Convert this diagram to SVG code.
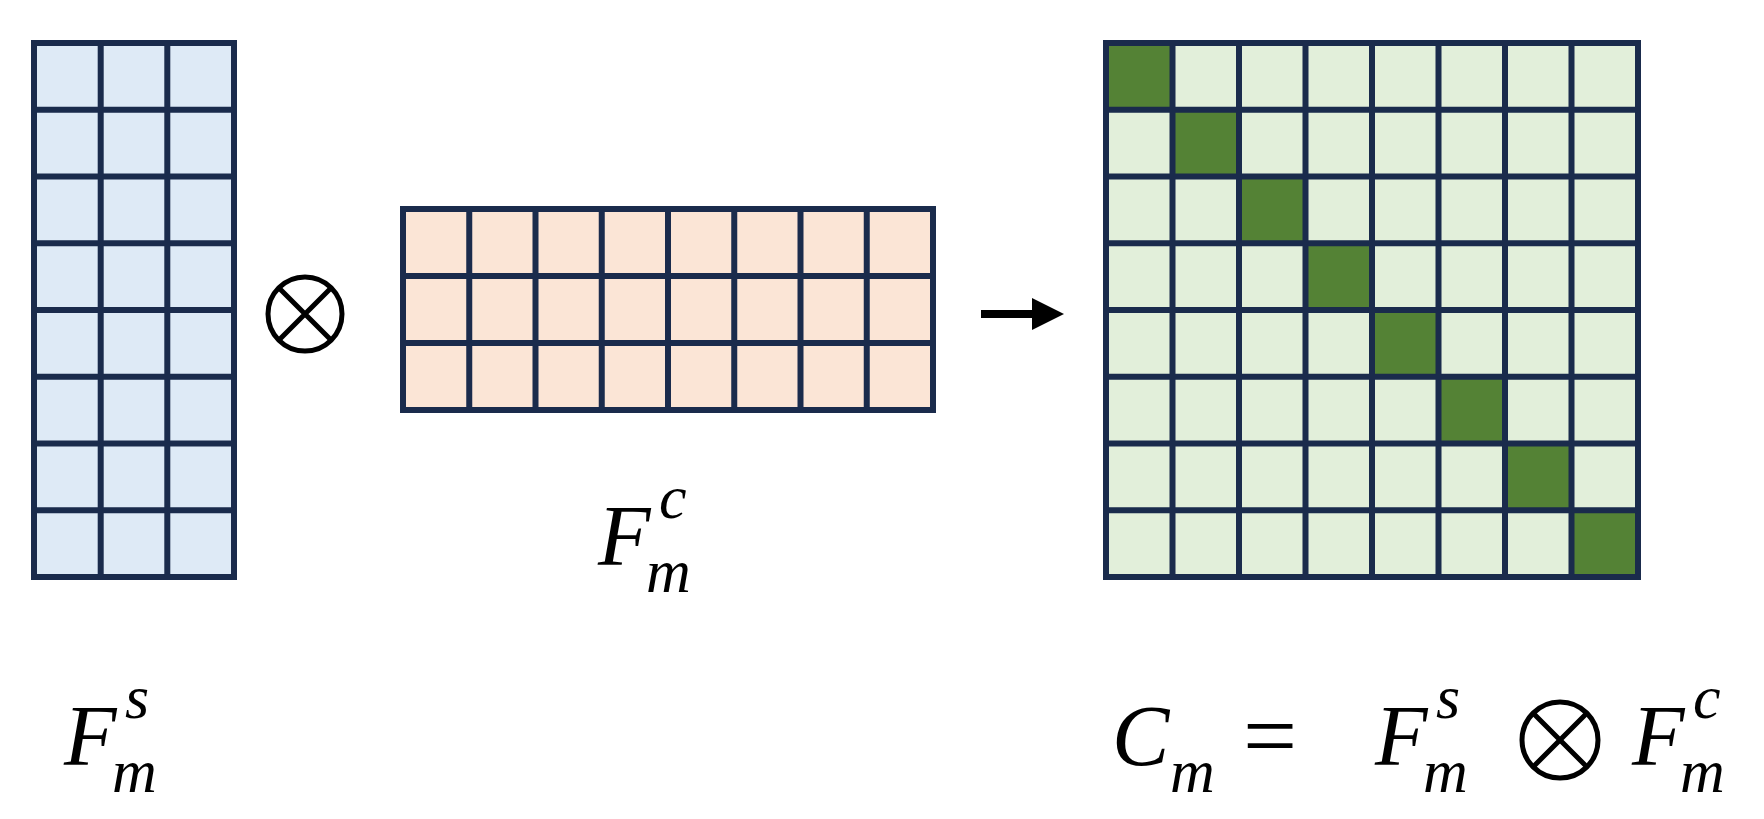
<svg xmlns="http://www.w3.org/2000/svg" width="1764" height="819" viewBox="0 0 1764 819">
<style>
.g{stroke:#1a2b4c;stroke-width:6}
.t{font-family:"Liberation Serif",serif;font-style:italic;fill:#000}
</style>
<rect width="1764" height="819" fill="#fff"/>
<g id="fs">
<rect x="34" y="43" width="200" height="534" fill="#deeaf6" class="g"/>
<path class="g" fill="none" d="M100.7 43V577M167.3 43V577M34 109.75H234M34 176.5H234M34 243.25H234M34 310H234M34 376.75H234M34 443.5H234M34 510.25H234"/>
</g>
<g id="fc">
<rect x="403" y="209" width="530" height="201" fill="#fbe5d6" class="g"/>
<path class="g" fill="none" d="M469.25 209V410M535.5 209V410M601.75 209V410M668 209V410M734.25 209V410M800.5 209V410M866.75 209V410M403 276H933M403 343H933"/>
</g>
<g id="cm">
<rect x="1106" y="43" width="532" height="534" fill="#e2efda" class="g"/>
<g fill="#548235">
<rect x="1106" y="43" width="66.5" height="66.75"/>
<rect x="1172.5" y="109.75" width="66.5" height="66.75"/>
<rect x="1239" y="176.5" width="66.5" height="66.75"/>
<rect x="1305.5" y="243.25" width="66.5" height="66.75"/>
<rect x="1372" y="310" width="66.5" height="66.75"/>
<rect x="1438.5" y="376.75" width="66.5" height="66.75"/>
<rect x="1505" y="443.5" width="66.5" height="66.75"/>
<rect x="1571.5" y="510.25" width="66.5" height="66.75"/>
</g>
<rect x="1106" y="43" width="532" height="534" fill="none" class="g"/>
<path class="g" fill="none" d="M1172.5 43V577M1239 43V577M1305.5 43V577M1372 43V577M1438.5 43V577M1505 43V577M1571.5 43V577M1106 109.75H1638M1106 176.5H1638M1106 243.25H1638M1106 310H1638M1106 376.75H1638M1106 443.5H1638M1106 510.25H1638"/>
</g>
<g id="connectors">
<g id="otimes" fill="none" stroke="#000" stroke-width="5">
<circle cx="305" cy="314" r="37"/>
<path d="M279 288L331 340M331 288L279 340"/>
</g>
<path d="M981 314H1035" stroke="#000" stroke-width="8"/>
<path d="M1032 298L1064 314L1032 330Z" fill="#000"/>
</g>
<g id="labels">
<text class="t" x="598" y="565" font-size="86">F</text>
<text class="t" x="659" y="518" font-size="62">c</text>
<text class="t" x="646" y="592" font-size="62">m</text>
<text class="t" x="64" y="765" font-size="86">F</text>
<text class="t" x="125" y="718" font-size="62">s</text>
<text class="t" x="112" y="792" font-size="62">m</text>
<text class="t" x="1112" y="765" font-size="86">C</text>
<text class="t" x="1170" y="792" font-size="62">m</text>
<text x="1243" y="768" font-size="96" font-family="Liberation Serif,serif">=</text>
<text class="t" x="1375" y="765" font-size="86">F</text>
<text class="t" x="1436" y="718" font-size="62">s</text>
<text class="t" x="1423" y="792" font-size="62">m</text>
<g fill="none" stroke="#000" stroke-width="5"><circle cx="1560" cy="740" r="38"/><path d="M1533 713L1587 767M1587 713L1533 767"/></g>
<text class="t" x="1632" y="765" font-size="86">F</text>
<text class="t" x="1693" y="718" font-size="62">c</text>
<text class="t" x="1680" y="792" font-size="62">m</text>
</g>
</svg>
